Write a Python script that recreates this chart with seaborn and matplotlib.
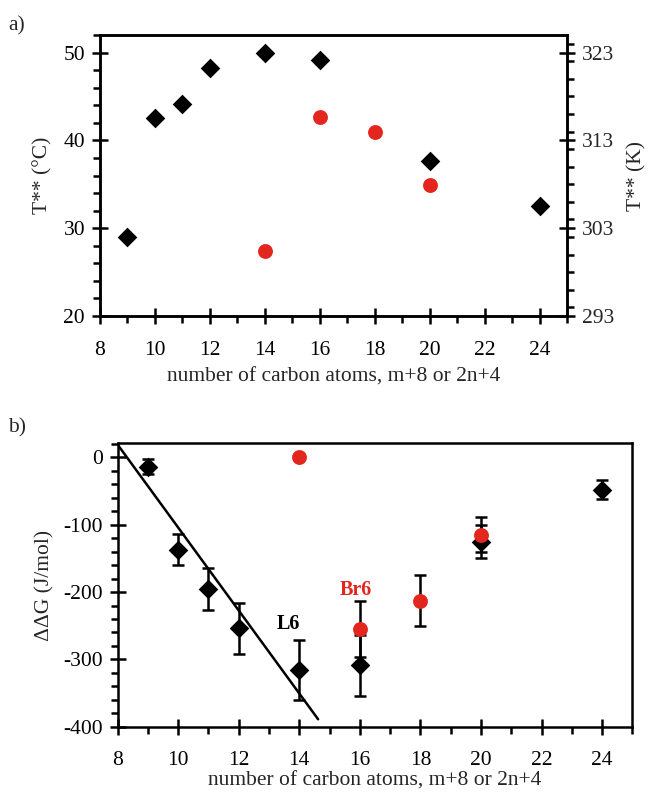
import matplotlib
matplotlib.use("Agg")
import matplotlib.pyplot as plt
import seaborn as sns
import numpy as np
import pandas as pd
from matplotlib.ticker import MultipleLocator

# ---- data ----
top_black_x = [9, 10, 11, 12, 14, 16, 20, 24]
top_black_y = [29.0, 42.6, 44.1, 48.3, 49.9, 49.1, 37.7, 32.5]
top_red_x = [14, 16, 18, 20]
top_red_y = [27.4, 42.7, 41.0, 34.9]

bot_black_x = [9, 10, 11, 12, 14, 16, 20, 24]
bot_black_y = [-14, -137, -195, -254, -316, -309, -125, -48]
bot_black_err = [11, 23, 31, 38, 45, 45, 24, 14]
bot_red_x = [14, 16, 18, 20]
bot_red_y = [0, -255, -213, -115]
bot_red_err = [np.nan, 42, 38, 26]

fit_x = [8, 14.62]
fit_y = [19, -389]

x_ticks = [8, 10, 12, 14, 16, 18, 20, 22, 24]
top_left_ticks = [20, 30, 40, 50]
top_right_ticks = [293, 303, 313, 323]
bot_y_ticks = [-400, -300, -200, -100, 0]

RED = "#e3261e"
sns.set_theme(style="white")
plt.rcParams["font.family"] = ["Liberation Serif", "DejaVu Serif"]
plt.rcParams["axes.unicode_minus"] = False

fig = plt.figure(figsize=(6.5, 7.94), dpi=100)
ax1 = fig.add_axes([0.1538, 0.602, 0.8723 - 0.1538, 0.9559 - 0.602])
ax3 = fig.add_axes([0.181, 0.0848, 0.973 - 0.181, 0.4417 - 0.0848])

TS = 15.5
LS = 15.5

def style_axis(ax, xminor, yminor, right_ticks=False):
    for s in ax.spines.values():
        s.set_visible(True)
        s.set_color("black")
        s.set_linewidth(1.8)
    ax.xaxis.set_minor_locator(MultipleLocator(xminor))
    ax.yaxis.set_minor_locator(MultipleLocator(yminor))
    ax.tick_params(which="major", direction="inout", length=11.5, width=1.8,
                   color="black", labelsize=TS, labelcolor="black")
    ax.tick_params(which="minor", direction="out", length=4.8, width=1.8, color="black")
    ax.tick_params(axis="x", which="both", bottom=True, top=False, pad=12)
    ax.tick_params(axis="y", which="both", left=True, right=right_ticks, pad=5)
    ax.grid(False)

# ---- panel a ----
df_tb = pd.DataFrame({"x": top_black_x, "y": top_black_y})
df_tr = pd.DataFrame({"x": top_red_x, "y": top_red_y})
sns.scatterplot(data=df_tb, x="x", y="y", ax=ax1, marker="D", s=100,
                color="black", linewidth=0, zorder=3)
sns.scatterplot(data=df_tr, x="x", y="y", ax=ax1, marker="o", s=115,
                color=RED, linewidth=0, zorder=4)
ax1.set_xlim(8, 25)
ax1.set_ylim(20, 52)
ax1.set_xticks(x_ticks)
ax1.set_yticks(top_left_ticks)
style_axis(ax1, 1, 2)
ax1.set_xlabel("number of carbon atoms, m+8 or 2n+4", fontsize=LS, labelpad=6)
ax1.set_ylabel("T** (°C)", fontsize=LS, labelpad=8)

ax2 = ax1.twinx()
ax2.set_ylim(20 + 273, 52 + 273)
ax2.set_yticks(top_right_ticks)
ax2.yaxis.set_minor_locator(MultipleLocator(2))
ax2.tick_params(which="major", direction="inout", length=11.5, width=1.8,
                color="black", labelsize=TS, pad=5)
ax2.tick_params(which="minor", direction="out", length=4.8, width=1.8, color="black")
ax2.tick_params(axis="y", which="both", left=False, right=True)
for s in ax2.spines.values():
    s.set_linewidth(1.8)
    s.set_color("black")
ax2.grid(False)
ax2.set_ylabel("T** (K)", fontsize=LS, rotation=90, labelpad=9)

# ---- panel b ----
ax3.errorbar(bot_black_x, bot_black_y, yerr=bot_black_err, fmt="none",
             ecolor="black", elinewidth=1.8, capsize=4.5, capthick=1.8, zorder=2)
df_bb = pd.DataFrame({"x": bot_black_x, "y": bot_black_y})
sns.scatterplot(data=df_bb, x="x", y="y", ax=ax3, marker="D", s=100,
                color="black", linewidth=0, zorder=3)
ax3.errorbar(bot_red_x, bot_red_y, yerr=bot_red_err, fmt="none",
             ecolor="black", elinewidth=1.8, capsize=4.5, capthick=1.8, zorder=4)
df_br = pd.DataFrame({"x": bot_red_x, "y": bot_red_y})
sns.scatterplot(data=df_br, x="x", y="y", ax=ax3, marker="o", s=115,
                color=RED, linewidth=0, zorder=5)
df_fit = pd.DataFrame({"x": fit_x, "y": fit_y})
sns.lineplot(data=df_fit, x="x", y="y", ax=ax3, color="black", linewidth=1.8, zorder=6)

ax3.text(13.63, -247, "L6", fontsize=14.5, fontweight="bold", color="black",
         ha="center", va="center")
ax3.text(15.87, -197, "Br6", fontsize=14.5, fontweight="bold", color=RED,
         ha="center", va="center")

ax3.set_xlim(8, 25)
ax3.set_ylim(-400, 21)
ax3.set_xticks(x_ticks)
ax3.set_yticks(bot_y_ticks)
style_axis(ax3, 1, 20)
ax3.set_xlabel("number of carbon atoms, m+8 or 2n+4", fontsize=LS, labelpad=1)
ax3.set_ylabel("ΔΔG (J/mol)", fontsize=LS, labelpad=6)

fig.text(0.012, 0.968, "a)", fontsize=15.5, ha="left", va="center")
fig.text(0.012, 0.461, "b)", fontsize=15.5, ha="left", va="center")

fig.savefig("out.png", dpi=100)
